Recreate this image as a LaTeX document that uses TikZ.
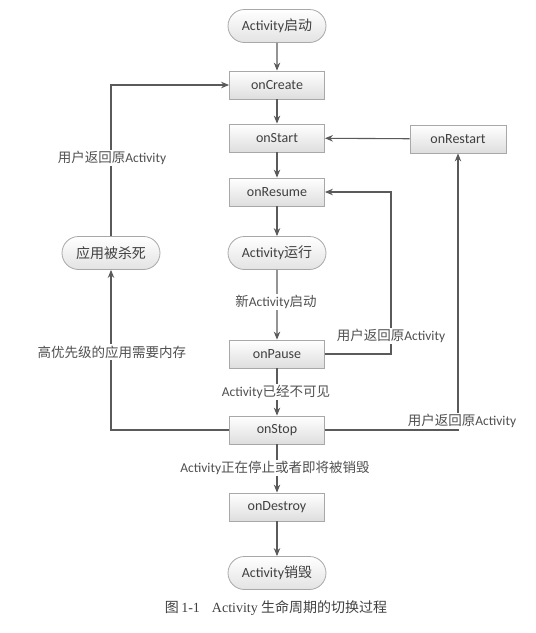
\documentclass[tikz,border=0pt]{standalone}
\usepackage{fontspec}
\setmainfont{Carlito}
\newfontfamily\cjkf{Noto Sans CJK SC}
\newfontfamily\capserif{Liberation Serif}
\newcommand\zh[1]{{\cjkf #1}}
\usetikzlibrary{arrows.meta,shapes.misc}
\definecolor{linegray}{HTML}{5A5A5A}
\definecolor{bordergray}{HTML}{A8A8A8}
\definecolor{txtgray}{HTML}{404040}
\definecolor{lblgray}{HTML}{505050}
\begin{document}
\begin{tikzpicture}[x=1pt,y=-1pt,
  box/.style={draw=bordergray, line width=0.8pt, top color=white, bottom color=black!13,
    minimum width=95pt, minimum height=28pt, inner sep=0pt,
    font=\fontsize{14}{16}\selectfont, text=txtgray},
  term/.style={rounded rectangle, draw=bordergray, line width=0.8pt, top color=white, bottom color=black!11,
    minimum width=98pt, minimum height=33pt, inner sep=0pt,
    font=\fontsize{14}{16}\selectfont, text=txtgray},
  flow/.style={draw=linegray, line width=1.1pt, -{Stealth[length=8pt,width=6.5pt]}},
  plain/.style={draw=linegray, line width=1.1pt},
  lbl/.style={fill=white, inner sep=1.5pt, font=\fontsize{13.5}{15}\selectfont, text=lblgray}]
\useasboundingbox (0,0) rectangle (536,633);
% main column
\node[term] (start) at (277,26) {Activity\zh{启动}};
\node[box] (create) at (277,85) {onCreate};
\node[box] (startn) at (277,138) {onStart};
\node[box] (resume) at (277,192) {onResume};
\node[term] (run) at (277,253) {Activity\zh{运行}};
\node[box] (pause) at (277,354) {onPause};
\node[box] (stop) at (277,430) {onStop};
\node[box] (destroy) at (277,507) {onDestroy};
\node[term] (endn) at (277,573) {Activity\zh{销毁}};
% side nodes
\node[box, minimum width=96pt] (restart) at (458,139) {onRestart};
\node[term] (killed) at (111,253) {\zh{应用被杀死}};
\coordinate (rloop) at (391,192);
% connectors
\draw[flow] (start) -- (create);
\draw[flow] (create) -- (startn);
\draw[flow] (startn) -- (resume);
\draw[flow] (resume) -- (run);
\draw[flow] (run) -- (pause);
\draw[flow] (pause) -- (stop);
\draw[flow] (stop) -- (destroy);
\draw[flow] (destroy) -- (endn);
\draw[flow] (restart) -- (startn);
\draw[flow] (pause.east) -| (rloop) -- (resume.east);
\draw[flow] (stop.east) -| (restart.south);
\draw[flow] (stop.west) -| (killed.south);
\draw[flow] (killed.north) |- (create.west);
% labels
\node[lbl] (l1) at (112,158) {\zh{用户返回原}Activity};
\node[lbl] (l2) at (112,352) {\zh{高优先级的应用需要内存}};
\node[lbl] (l3) at (276,302) {\zh{新}Activity\zh{启动}};
\node[lbl] (l4) at (391,336) {\zh{用户返回原}Activity};
\node[lbl] (l5) at (276,392) {Activity\zh{已经不可见}};
\node[lbl] (l6) at (462,421) {\zh{用户返回原}Activity};
\node[lbl] (l7) at (275,468) {Activity\zh{正在停止或者即将被销毁}};
% caption
\node[font=\fontsize{14}{16}\selectfont, text=black!75] (cap) at (276,608)
  {\zh{图}\,{\capserif 1-1}\hspace{12pt}{\capserif Activity} \zh{生命周期的切换过程}};
\end{tikzpicture}
\end{document}
